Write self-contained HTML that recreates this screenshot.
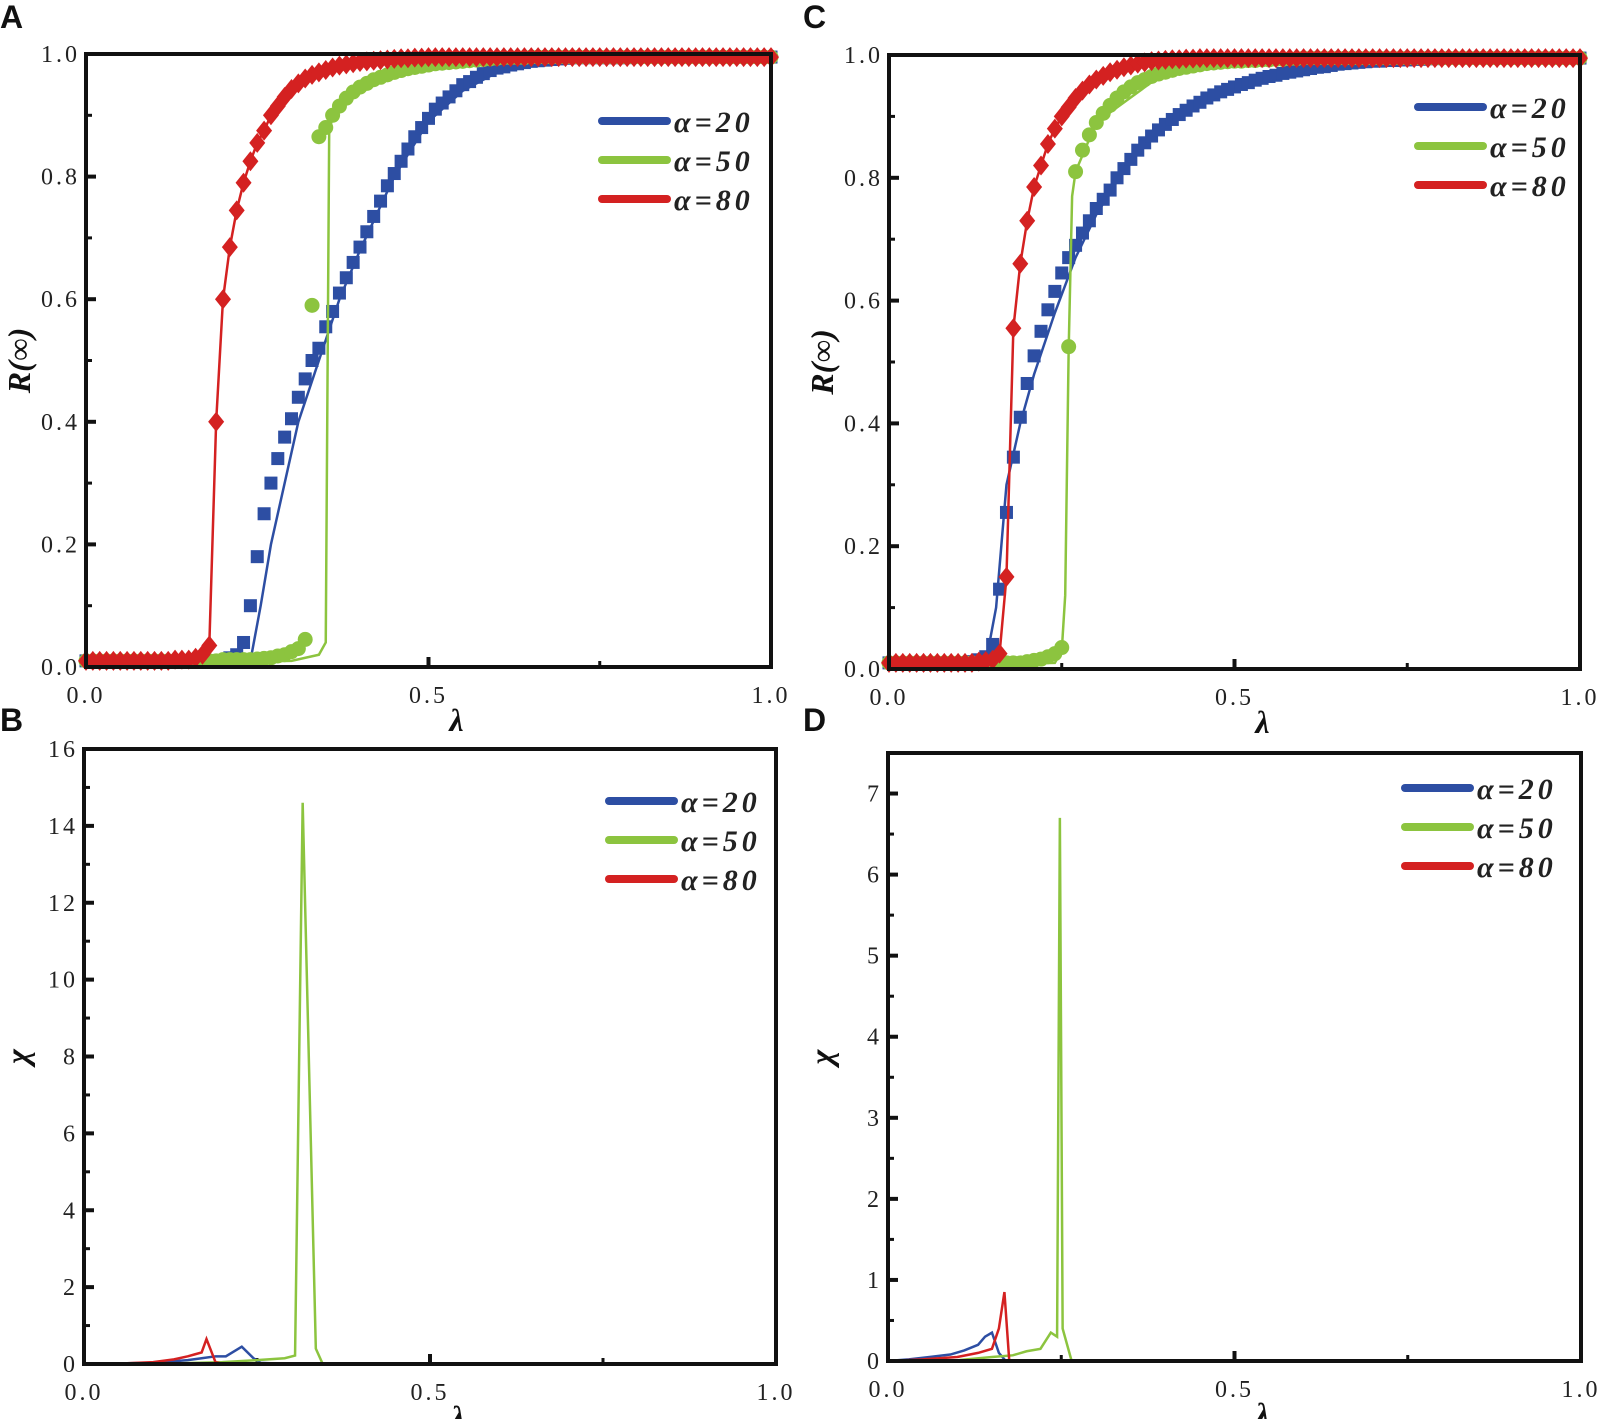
<!DOCTYPE html>
<html><head><meta charset="utf-8"><style>
html,body{margin:0;padding:0;background:#fff;}
svg{display:block;}
.tk{font-family:"Liberation Serif",serif;font-size:24px;fill:#222;letter-spacing:3px;}
.lg{font-family:"Liberation Serif",serif;font-size:30px;font-weight:bold;font-style:italic;fill:#222;letter-spacing:4px;}
.ax{font-family:"Liberation Serif",serif;font-size:32px;font-weight:bold;font-style:italic;fill:#111;}
.pl{font-family:"Liberation Sans",sans-serif;font-size:32px;font-weight:bold;fill:#111;}
</style></head><body>
<svg id="fig" width="1600" height="1419" viewBox="0 0 1600 1419" xmlns="http://www.w3.org/2000/svg"></svg>
<script>
// ---------- DATA ----------
const lamGrid=[0,0.01,0.02,0.03,0.04,0.05,0.06,0.07,0.08,0.09,
0.10,0.11,0.12,0.13,0.14,0.15,0.16,0.17,0.18,0.19,
0.20,0.21,0.22,0.23,0.24,0.25,0.26,0.27,0.28,0.29,
0.30,0.31,0.32,0.33,0.34,0.35,0.36,0.37,0.38,0.39,
0.40,0.41,0.42,0.43,0.44,0.45,0.46,0.47,0.48,0.49,
0.50,0.51,0.52,0.53,0.54,0.55,0.56,0.57,0.58,0.59,
0.60,0.61,0.62,0.63,0.64,0.65,0.66,0.67,0.68,0.69,
0.70,0.71,0.72,0.73,0.74,0.75,0.76,0.77,0.78,0.79,
0.80,0.81,0.82,0.83,0.84,0.85,0.86,0.87,0.88,0.89,
0.90,0.91,0.92,0.93,0.94,0.95,0.96,0.97,0.98,0.99,1.00];

const valA_b=[0.01,0.01,0.01,0.01,0.01,0.01,0.01,0.01,0.01,0.01,
0.01,0.01,0.01,0.01,0.01,0.01,0.01,0.01,0.01,0.01,
0.01,0.015,0.02,0.04,0.1,0.18,0.25,0.3,0.34,0.375,
0.405,0.44,0.47,0.5,0.52,0.555,0.58,0.61,0.635,0.66,
0.685,0.71,0.735,0.76,0.785,0.805,0.825,0.845,0.865,0.88,
0.895,0.91,0.92,0.93,0.94,0.95,0.955,0.962,0.968,0.973,
0.977,0.979,0.982,0.984,0.986,0.988,0.989,0.99,0.991,0.992,
0.993,0.994,0.994,0.994,0.994,0.994,0.994,0.994,0.994,0.994,
0.995,0.995,0.995,0.995,0.995,0.995,0.995,0.995,0.995,0.995,
0.995,0.995,0.995,0.995,0.995,0.995,0.995,0.995,0.995,0.995,0.995];
const valA_g=[0.01,0.01,0.01,0.01,0.01,0.01,0.01,0.01,0.01,0.01,
0.01,0.01,0.01,0.01,0.01,0.01,0.01,0.01,0.01,0.01,
0.012,0.012,0.012,0.012,0.012,0.013,0.014,0.015,0.018,0.02,
0.025,0.03,0.045,0.59,0.865,0.88,0.9,0.915,0.928,0.938,
0.946,0.952,0.958,0.962,0.966,0.97,0.973,0.976,0.978,0.98,
0.982,0.984,0.985,0.986,0.987,0.988,0.989,0.99,0.991,0.992,
0.993,0.994,0.994,0.994,0.994,0.995,0.995,0.995,0.995,0.995,
0.995,0.995,0.995,0.995,0.995,0.995,0.995,0.995,0.995,0.995,
0.995,0.995,0.995,0.995,0.995,0.995,0.995,0.995,0.995,0.995,
0.995,0.995,0.995,0.995,0.995,0.995,0.995,0.995,0.995,0.995,0.995];
const valA_r=[0.01,0.01,0.01,0.01,0.01,0.01,0.01,0.01,0.01,0.01,
0.01,0.01,0.01,0.012,0.012,0.012,0.015,0.02,0.035,0.4,
0.6,0.685,0.745,0.79,0.825,0.855,0.875,0.9,0.915,0.93,
0.943,0.952,0.96,0.966,0.97,0.974,0.978,0.981,0.983,0.985,
0.987,0.988,0.989,0.99,0.991,0.992,0.993,0.993,0.994,0.994,
0.995,0.995,0.995,0.995,0.995,0.995,0.995,0.995,0.995,0.995,
0.995,0.995,0.995,0.995,0.995,0.995,0.995,0.995,0.995,0.995,
0.995,0.995,0.995,0.995,0.995,0.995,0.995,0.995,0.995,0.995,
0.995,0.995,0.995,0.995,0.995,0.995,0.995,0.995,0.995,0.995,
0.995,0.995,0.995,0.995,0.995,0.995,0.995,0.995,0.995,0.995,0.995];
const lamA_bl=[0,0.2,0.24,0.255,0.27,0.29,0.31,0.34,0.37,0.40,0.45,0.5,0.55,0.6,0.7,0.8,1.0];
const valA_bl=[0.005,0.005,0.01,0.1,0.2,0.3,0.4,0.5,0.6,0.68,0.8,0.89,0.94,0.97,0.99,0.995,0.997];
const lamA_gl=[0,0.3,0.34,0.35,0.355,0.36,0.4,0.5,0.6,0.8,1.0];
const valA_gl=[0.005,0.01,0.02,0.04,0.87,0.9,0.948,0.981,0.991,0.996,0.997];

const valC_b=[0.01,0.01,0.01,0.01,0.01,0.01,0.01,0.01,0.01,0.01,
0.01,0.01,0.012,0.015,0.02,0.04,0.13,0.255,0.345,0.41,
0.465,0.51,0.55,0.585,0.615,0.645,0.67,0.69,0.71,0.73,
0.75,0.765,0.78,0.8,0.815,0.83,0.845,0.857,0.868,0.878,
0.887,0.895,0.903,0.91,0.917,0.923,0.93,0.935,0.94,0.944,
0.948,0.952,0.955,0.959,0.962,0.965,0.967,0.97,0.972,0.974,
0.976,0.978,0.98,0.981,0.983,0.985,0.986,0.987,0.988,0.989,
0.99,0.99,0.991,0.991,0.992,0.992,0.993,0.993,0.994,0.994,
0.995,0.995,0.995,0.995,0.995,0.995,0.995,0.995,0.995,0.995,
0.995,0.995,0.995,0.995,0.995,0.995,0.995,0.995,0.995,0.995,0.995];
const valC_g=[0.01,0.01,0.01,0.01,0.01,0.01,0.01,0.01,0.01,0.01,
0.01,0.01,0.01,0.01,0.01,0.01,0.01,0.01,0.01,0.01,
0.012,0.014,0.016,0.02,0.025,0.035,0.525,0.81,0.845,0.87,
0.89,0.905,0.918,0.93,0.94,0.948,0.955,0.96,0.965,0.969,
0.972,0.975,0.978,0.98,0.982,0.984,0.986,0.987,0.988,0.989,
0.99,0.99,0.991,0.991,0.992,0.992,0.993,0.993,0.994,0.994,
0.995,0.995,0.995,0.995,0.995,0.995,0.995,0.995,0.995,0.995,
0.995,0.995,0.995,0.995,0.995,0.995,0.995,0.995,0.995,0.995,
0.995,0.995,0.995,0.995,0.995,0.995,0.995,0.995,0.995,0.995,
0.995,0.995,0.995,0.995,0.995,0.995,0.995,0.995,0.995,0.995,0.995];
const valC_r=[0.01,0.01,0.01,0.01,0.01,0.01,0.01,0.01,0.01,0.01,
0.01,0.01,0.01,0.012,0.013,0.015,0.025,0.15,0.555,0.66,
0.73,0.785,0.82,0.855,0.88,0.9,0.915,0.93,0.942,0.952,
0.96,0.966,0.972,0.976,0.98,0.983,0.986,0.988,0.99,0.991,
0.992,0.993,0.993,0.994,0.994,0.995,0.995,0.995,0.995,0.995,
0.995,0.995,0.995,0.995,0.995,0.995,0.995,0.995,0.995,0.995,
0.995,0.995,0.995,0.995,0.995,0.995,0.995,0.995,0.995,0.995,
0.995,0.995,0.995,0.995,0.995,0.995,0.995,0.995,0.995,0.995,
0.995,0.995,0.995,0.995,0.995,0.995,0.995,0.995,0.995,0.995,
0.995,0.995,0.995,0.995,0.995,0.995,0.995,0.995,0.995,0.995,0.995];
const lamC_bl=[0,0.14,0.155,0.17,0.19,0.21,0.24,0.27,0.3,0.35,0.4,0.5,0.6,0.7,0.8,1.0];
const valC_bl=[0.005,0.01,0.1,0.3,0.4,0.48,0.58,0.67,0.74,0.83,0.885,0.948,0.976,0.989,0.994,0.997];
const lamC_gl=[0,0.24,0.25,0.255,0.26,0.265,0.27,0.3,0.4,0.5,0.7,1.0];
const valC_gl=[0.005,0.01,0.03,0.12,0.52,0.77,0.81,0.89,0.972,0.99,0.996,0.997];

const lamB_b=[0,0.1,0.15,0.17,0.19,0.205,0.228,0.245,0.255,0.3,1.0];
const valB_b=[0,0.03,0.1,0.15,0.2,0.2,0.45,0.15,0.03,0,0];
const lamB_g=[0,0.1,0.2,0.25,0.29,0.305,0.316,0.335,0.345,0.4,1.0];
const valB_g=[0,0,0.05,0.1,0.15,0.22,14.6,0.4,0,0,0];
const lamB_r=[0,0.05,0.1,0.13,0.15,0.16,0.17,0.177,0.19,0.2,1.0];
const valB_r=[0,0.01,0.05,0.12,0.2,0.25,0.3,0.65,0.05,0,0];

const lamD_b=[0,0.03,0.06,0.09,0.11,0.13,0.14,0.15,0.16,0.17,1.0];
const valD_b=[0,0.02,0.05,0.08,0.13,0.2,0.3,0.35,0.1,0,0];
const lamD_g=[0,0.1,0.15,0.18,0.2,0.22,0.235,0.244,0.248,0.252,0.265,1.0];
const valD_g=[0,0.01,0.05,0.07,0.12,0.15,0.35,0.3,6.7,0.4,0,0];
const lamD_r=[0,0.05,0.1,0.13,0.15,0.16,0.168,0.175,0.18,1.0];
const valD_r=[0,0.02,0.05,0.1,0.15,0.4,0.85,0,0,0];

const xTicks=[0,0.5,1.0];
const xTickLabels=["0.0","0.5","1.0"];
const rTicks=[0,0.2,0.4,0.6,0.8,1.0];
const rTickLabels=["0.0","0.2","0.4","0.6","0.8","1.0"];
const bTicks=[0,2,4,6,8,10,12,14,16];
const dTicks=[0,1,2,3,4,5,6,7];
const legendLabels=["α=20","α=50","α=80"];
const colors=["#2d4ea3","#8cc43f","#d42121"];

// ---------- DRAW ----------
const NS="http://www.w3.org/2000/svg";
const svg=document.getElementById('fig');
function mk(tag,attrs,parent){const e=document.createElementNS(NS,tag);for(const k in attrs)e.setAttribute(k,attrs[k]);(parent||svg).appendChild(e);return e;}

function panel(P){
  const g=mk('g',{});
  
  
  const X=v=>P.x0+(P.x1-P.x0)*v;
  const Y=v=>P.y1-(P.y1-P.y0)*(v-P.ymin)/(P.ymax-P.ymin);
  const lt=mk('text',{x:P.lx,y:P.ly,class:'pl'},g);lt.textContent=P.letter;
  
  
  xTicks.forEach((t,i)=>{
    mk('line',{x1:X(t),x2:X(t),y1:P.y1,y2:P.y1-10,stroke:'#111','stroke-width':4},g);
    const tx=mk('text',{x:X(t),y:P.y1+36,class:'tk','text-anchor':'middle'},g);tx.textContent=xTickLabels[i];
    
    
  });
  [0.25,0.75].forEach(t=>mk('line',{x1:X(t),x2:X(t),y1:P.y1,y2:P.y1-6,stroke:'#111','stroke-width':3},g));
  P.yt.forEach((t,i)=>{
    mk('line',{x1:P.x0,x2:P.x0+10,y1:Y(t),y2:Y(t),stroke:'#111','stroke-width':4},g);
    if(i<P.yt.length-1){const m=(t+P.yt[i+1])/2;mk('line',{x1:P.x0,x2:P.x0+6,y1:Y(m),y2:Y(m),stroke:'#111','stroke-width':3},g);}
    const ty=mk('text',{x:P.x0-6,y:Y(t)+8,class:'tk','text-anchor':'end'},g);ty.textContent=P.ytl[i];
    
    
  });
  P.series.forEach((s,si)=>{
    const c=colors[si];
    if(s.line){
      const pts=s.line[0].map((l,i)=>X(l)+','+Y(s.line[1][i])).join(' ');
      const pl=mk('polyline',{points:pts,fill:'none',stroke:c,'stroke-width':P.lw},g);
      
      
    }
    if(s.pts){
      s.pts[0].forEach((l,i)=>{
        const cx=X(l),cy=Y(s.pts[1][i]);let m;
        if(si===0)m=mk('rect',{x:cx-6.5,y:cy-6.5,width:13,height:13,fill:c},g);
        else if(si===1)m=mk('circle',{cx:cx,cy:cy,r:7.5,fill:c},g);
        else m=mk('polygon',{points:`${cx},${cy-10} ${cx+8},${cy} ${cx},${cy+10} ${cx-8},${cy}`,fill:c},g);
        
        
      });
    }
  });
  const fr=mk('rect',{x:P.x0,y:P.y0,width:P.x1-P.x0,height:P.y1-P.y0,fill:'none',stroke:'#111','stroke-width':4},g);
  
  
  const xl=mk('text',{x:(P.x0+P.x1)/2+28,y:P.y1+64,class:'ax','text-anchor':'middle'},g);xl.textContent='λ';
  
  
  const yl=mk('text',{x:0,y:0,class:'ax','text-anchor':'middle',transform:`translate(${P.x0-56},${(P.y0+P.y1)/2}) rotate(-90)`,'font-size':P.ylfs},g);yl.textContent=P.ylabel;
  
  
  legendLabels.forEach((t,i)=>{
    const y=P.legY+i*P.legDy;
    const ll=mk('line',{x1:P.legX,x2:P.legX+65,y1:y,y2:y,stroke:colors[i],'stroke-width':8,'stroke-linecap':'round'},g);
    
    
    const lx=mk('text',{x:P.legX+72,y:y+11,class:'lg'},g);lx.textContent=t;
    
    
  });
}

panel({name:'panel-a',letter:'A',lx:0,ly:28,x0:86,x1:771,y0:54,y1:667,ymin:0,ymax:1,yt:rTicks,ytl:rTickLabels,ylabel:'R(∞)',ylfs:32,lw:2.5,
  legX:602,legY:121,legDy:39,
  series:[{pts:[lamGrid,valA_b],line:[lamA_bl,valA_bl]},{pts:[lamGrid,valA_g],line:[lamA_gl,valA_gl]},{pts:[lamGrid,valA_r],line:[lamGrid,valA_r]}]});
panel({name:'panel-c',letter:'C',lx:803,ly:28,x0:889,x1:1580,y0:55,y1:669,ymin:0,ymax:1,yt:rTicks,ytl:rTickLabels,ylabel:'R(∞)',ylfs:32,lw:2.5,
  legX:1418,legY:107,legDy:39,
  series:[{pts:[lamGrid,valC_b],line:[lamC_bl,valC_bl]},{pts:[lamGrid,valC_g],line:[lamC_gl,valC_gl]},{pts:[lamGrid,valC_r],line:[lamGrid,valC_r]}]});
panel({name:'panel-b',letter:'B',lx:0,ly:731,x0:84,x1:776,y0:749,y1:1364,ymin:0,ymax:16,yt:bTicks,ytl:bTicks.map(String),ylabel:'χ',ylfs:42,lw:2.5,
  legX:609,legY:801,legDy:39,
  series:[{line:[lamB_b,valB_b]},{line:[lamB_g,valB_g]},{line:[lamB_r,valB_r]}]});
panel({name:'panel-d',letter:'D',lx:803,ly:731,x0:888,x1:1581,y0:753,y1:1361,ymin:0,ymax:7.5,yt:dTicks,ytl:dTicks.map(String),ylabel:'χ',ylfs:42,lw:2.5,
  legX:1405,legY:788,legDy:39,
  series:[{line:[lamD_b,valD_b]},{line:[lamD_g,valD_g]},{line:[lamD_r,valD_r]}]});
</script>
</body></html>
